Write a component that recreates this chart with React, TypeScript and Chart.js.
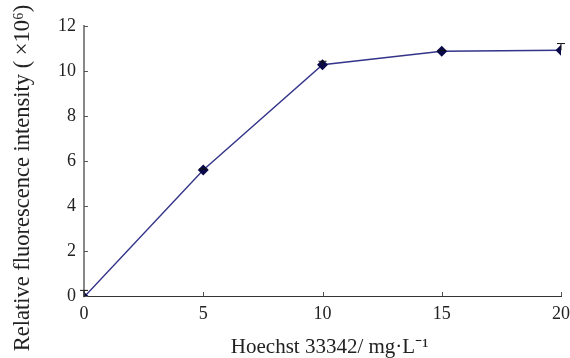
import React, { useEffect, useRef } from "react";
import { Chart, registerables } from "chart.js";

Chart.register(...registerables);

const concentrations = [0, 5, 10, 15, 20];
const intensities = [-0.05, 5.6, 10.28, 10.88, 10.92];
const errorsUp = [0.3, 0.05, 0.15, 0.04, 0.3];
const xTickValues = [0, 5, 10, 15, 20];
const yTickValues = [0, 2, 4, 6, 8, 10, 12];
const xTitle = "Hoechst 33342/ mg·L⁻¹";
const yTitle = "Relative fluorescence intensity ( ×10⁶)";

const FONT = "'Liberation Serif', 'Times New Roman', serif";

const extrasPlugin = {
  id: "extras",
  afterDatasetsDraw(chart: any) {
    const { ctx, scales } = chart;
    const x = scales.x;
    const y = scales.y;
    ctx.save();
    ctx.strokeStyle = "#555";
    ctx.lineWidth = 1;
    yTickValues.forEach((v) => {
      const py = Math.round(y.getPixelForValue(v)) + 0.5;
      ctx.beginPath();
      ctx.moveTo(x.left, py);
      ctx.lineTo(x.left + 4, py);
      ctx.stroke();
    });
    xTickValues.forEach((v) => {
      const px = Math.round(x.getPixelForValue(v)) + 0.5;
      ctx.beginPath();
      ctx.moveTo(px, y.bottom);
      ctx.lineTo(px, y.bottom - 4);
      ctx.stroke();
    });
    ctx.strokeStyle = "#111";
    concentrations.forEach((c, i) => {
      const px = x.getPixelForValue(c);
      const p0 = y.getPixelForValue(intensities[i]);
      const p1 = y.getPixelForValue(intensities[i] + errorsUp[i]);
      ctx.beginPath();
      ctx.moveTo(px, p0);
      ctx.lineTo(px, p1);
      ctx.moveTo(px - 4, p1);
      ctx.lineTo(px + 4, p1);
      ctx.stroke();
    });
    // axis titles
    ctx.fillStyle = "#222";
    ctx.font = `21px ${FONT}`;
    ctx.textAlign = "center";
    ctx.textBaseline = "alphabetic";
    ctx.fillText(xTitle, x.left + (x.right - x.left) * 0.515, 353);
    ctx.translate(29, (y.top + y.bottom) / 2 + 17);
    ctx.rotate(-Math.PI / 2);
    ctx.font = `22.5px ${FONT}`;
    ctx.fillText(yTitle, 0, 0);
    ctx.restore();
  },
};

export default function App() {
  const ref = useRef<HTMLCanvasElement>(null);
  useEffect(() => {
    document.body.style.margin = "0";
    document.body.style.background = "#fff";
    const chart = new Chart(ref.current!, {
      type: "line",
      data: {
        datasets: [
          {
            data: concentrations.map((c, i) => ({ x: c, y: intensities[i] })),
            borderColor: "#34348a",
            borderWidth: 1.4,
            pointStyle: "rectRot",
            pointRadius: 4.5,
            pointBackgroundColor: "#0a0a4a",
            pointBorderColor: "#0a0a4a",
            tension: 0,
          },
        ],
      },
      options: {
        animation: false,
        responsive: false,
        devicePixelRatio: 1,
        layout: { padding: { top: 26, right: 0, left: 0, bottom: 0 } },
        plugins: { legend: { display: false }, tooltip: { enabled: false } },
        scales: {
          x: {
            type: "linear",
            min: 0,
            max: 20,
            afterBuildTicks: (s: any) => {
              s.ticks = xTickValues.map((v) => ({ value: v }));
            },
            afterFit: (s: any) => {
              s.height = 62;
              s.paddingRight = 9;
            },
            grid: { display: false, drawTicks: false },
            border: { display: true, color: "#333", width: 1 },
            ticks: {
              color: "#222",
              font: { family: FONT, size: 18 },
              padding: 7,
              maxRotation: 0,
            },
            title: { display: false },
          },
          y: {
            type: "linear",
            min: 0,
            max: 12,
            afterBuildTicks: (s: any) => {
              s.ticks = yTickValues.map((v) => ({ value: v }));
            },
            afterFit: (s: any) => {
              s.width = 84;
            },
            grid: { display: false, drawTicks: false },
            border: { display: true, color: "#888", width: 2 },
            ticks: {
              color: "#222",
              font: { family: FONT, size: 18 },
              padding: 8,
            },
            title: { display: false },
          },
        },
      },
      plugins: [extrasPlugin],
    });
    return () => chart.destroy();
  }, []);
  return <canvas ref={ref} width={570} height={358} style={{ display: "block" }} />;
}
